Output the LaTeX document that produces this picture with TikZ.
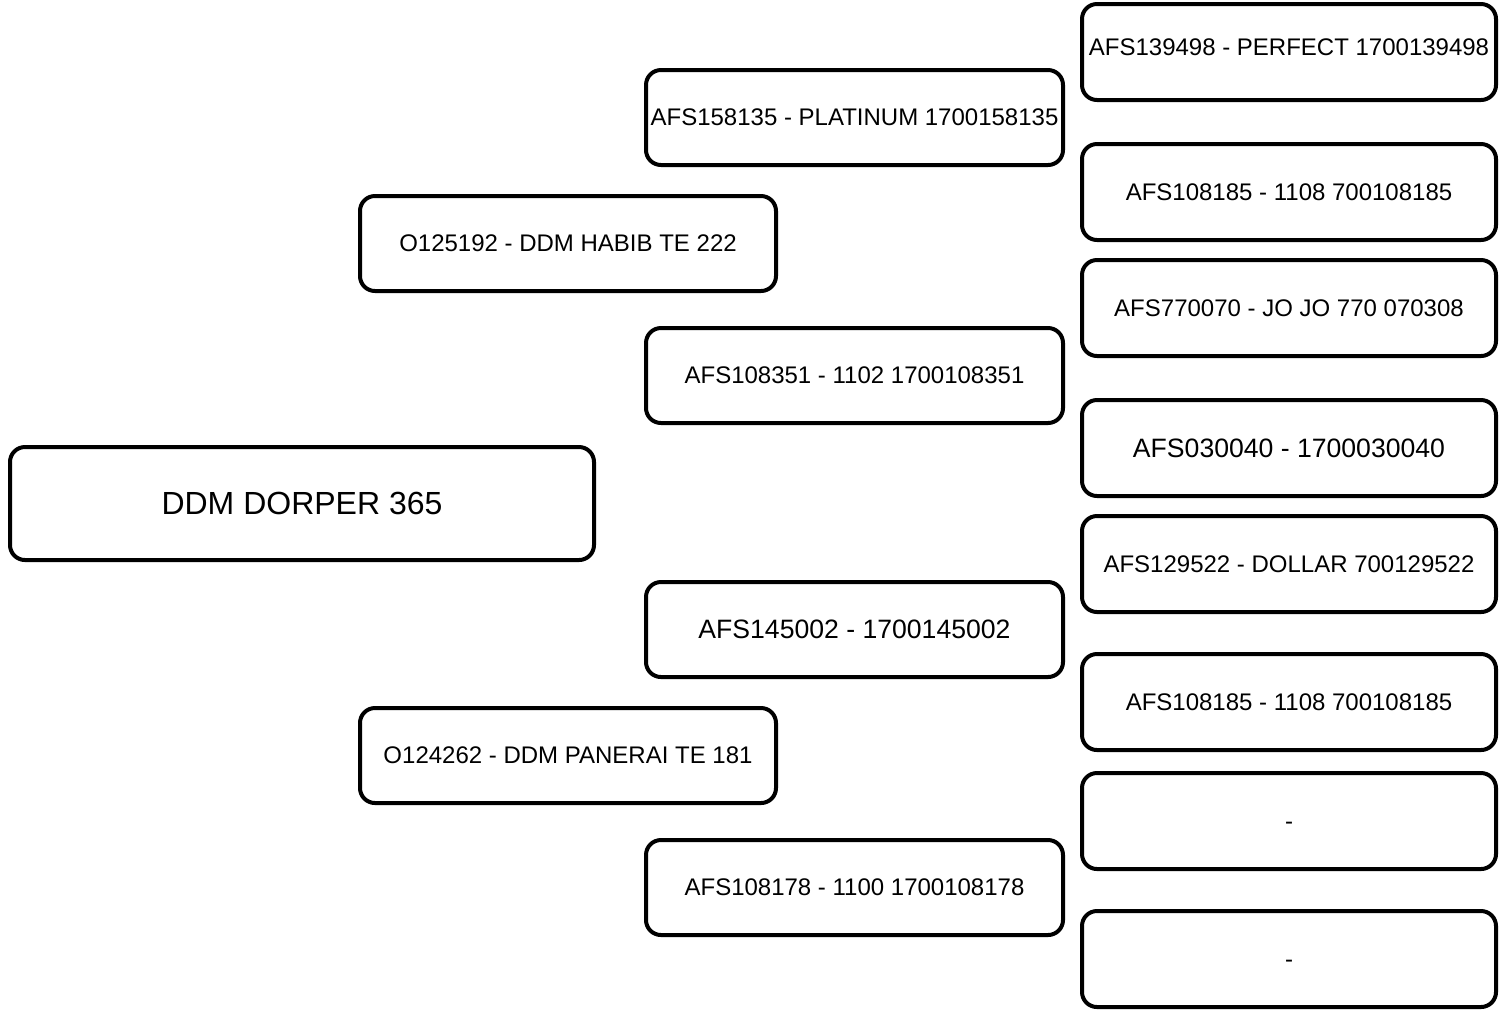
\documentclass[tikz,border=0pt]{standalone}
\usepackage{fontspec}
\setmainfont{Liberation Sans}
\begin{document}
\begin{tikzpicture}[x=0.5pt,y=-0.5pt,
  box/.style={draw=black, line width=2pt, rounded corners=7.5pt, fill=white,
    inner sep=0pt, align=center, font=\fontsize{12}{14}\selectfont},
  gone/.style={box, minimum width=292pt, minimum height=56.5pt, font=\fontsize{16}{19}\selectfont},
  gtwo/.style={box, minimum width=208pt, minimum height=47.5pt},
  gthree/.style={box, minimum width=208.5pt, minimum height=47.5pt},
  gfour/.style={box, minimum width=207pt, minimum height=48pt},
  bigtext/.style={font=\fontsize{13.3}{16}\selectfont},
  captext/.style={text height=8.6pt, text depth=0pt}]
\useasboundingbox (0,0) rectangle (1499,1009);
% generation 1
\node[gone] (root) at (302,503.5) {DDM DORPER 365};
% generation 2
\node[gtwo] (sire) at (568,243.5) {O125192 - DDM HABIB TE 222};
\node[gtwo] (dam) at (568,755.5) {O124262 - DDM PANERAI TE 181};
% generation 3
\node[gthree] (ss) at (854.5,117.5) {AFS158135 - PLATINUM 1700158135};
\node[gthree] (sd) at (854.5,375.5) {AFS108351 - 1102 1700108351};
\node[gthree,bigtext] (ds) at (854.5,629.5) {AFS145002 - 1700145002};
\node[gthree] (dd) at (854.5,887.5) {AFS108178 - 1100 1700108178};
% generation 4
\node[gfour,captext] (sss) at (1289,52) {\raisebox{2.5pt}{AFS139498 - PERFECT 1700139498}};
\node[gfour] (ssd) at (1289,192) {AFS108185 - 1108 700108185};
\node[gfour] (sds) at (1289,308) {AFS770070 - JO JO 770 070308};
\node[gfour,bigtext] (sdd) at (1289,448) {AFS030040 - 1700030040};
\node[gfour] (dss) at (1289,564) {AFS129522 - DOLLAR 700129522};
\node[gfour] (dsd) at (1289,702) {AFS108185 - 1108 700108185};
\node[gfour,captext] (dds) at (1289,821) {-};
\node[gfour,captext] (ddd) at (1289,959) {-};
\end{tikzpicture}
\end{document}
